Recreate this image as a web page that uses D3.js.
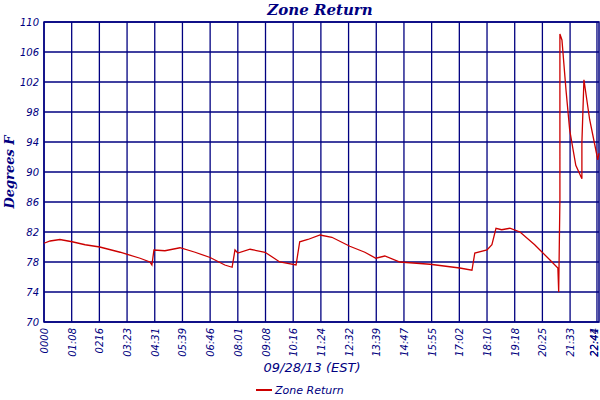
<!DOCTYPE html>
<html><head><meta charset="utf-8">
<script src="https://cdn.jsdelivr.net/npm/d3@7"></script>
<style>body{margin:0;background:#fff}</style></head>
<body><svg id="c" width="600" height="400"></svg>
<script>
const tickLabels=["0000","01:08","0216","03:23","04:31","05:39","06:46","08:01","09:08","10:16","11:24","12:32","13:39","14:47","15:55","17:02","18:10","19:18","20:25","21:33"];
const endLabels=["22:41","22:44"];
const yTicks=[70,74,78,82,86,90,94,98,102,106,110];
const minutes=[0,15,39,69,101,137,187,236,260,265,270,297,334,371,408,444,462,469,476,506,543,579,619,628,648,678,707,751,788,815,837,874,948,1021,1051,1058,1088,1100,1110,1124,1144,1169,1205,1242,1262,1264,1267,1267,1272,1282,1291,1306,1321,1321,1326,1340,1355,1360,1363];
const temps=[80.5,80.8,81.0,80.7,80.3,80.0,79.3,78.5,78.0,77.6,79.6,79.5,79.9,79.3,78.6,77.6,77.3,79.6,79.2,79.7,79.3,78.0,77.6,80.7,81.0,81.6,81.3,80.1,79.3,78.5,78.8,78.0,77.7,77.2,76.9,79.2,79.6,80.3,82.5,82.3,82.5,82.0,80.3,78.3,77.2,74.0,86.3,108.4,107.6,100.9,95.6,90.9,89.1,93.9,102.3,97.0,93.0,91.6,92.5];
const svg=d3.select("#c");
const L=44,R=599,T=22,B=322,navy="#000080";
const x=d3.scaleLinear().domain([0,1363]).range([L,R]);
const y=d3.scaleLinear().domain([70,110]).range([B,T]);
const g=svg.append("g");
const xt=tickLabels.map((d,i)=>i*68);
g.selectAll(".vx").data(xt.concat([1358])).enter().append("line")
 .attr("x1",d=>x(d)).attr("x2",d=>x(d)).attr("y1",T).attr("y2",B).attr("stroke",navy).attr("stroke-width",1.3);
g.selectAll(".hy").data(yTicks).enter().append("line")
 .attr("x1",L).attr("x2",R).attr("y1",d=>y(d)).attr("y2",d=>y(d)).attr("stroke",navy).attr("stroke-width",1.3);
g.append("rect").attr("x",L).attr("y",T).attr("width",R-L).attr("height",B-T).attr("fill","none").attr("stroke",navy).attr("stroke-width",1.5);
svg.selectAll(".yl").data(yTicks).enter().append("text").attr("x",L-5).attr("y",d=>y(d)+4)
 .attr("text-anchor","end").attr("font-family","DejaVu Sans").attr("font-style","italic").attr("font-size",10).attr("fill",navy).text(d=>d);
const xl=tickLabels.map((t,i)=>({t,m:i*68})).concat([{t:endLabels[0],m:1358},{t:endLabels[1],m:1363}]);
svg.selectAll(".xl").data(xl).enter().append("text")
 .attr("transform",d=>`translate(${Math.min(x(d.m)+4,598)},${B+6}) rotate(-90)`)
 .attr("text-anchor","end").attr("font-family","DejaVu Sans").attr("font-style","italic").attr("font-size",10).attr("fill",navy).text(d=>d.t);
const line=d3.line().x((d,i)=>x(minutes[i])).y(d=>y(d));
svg.append("path").attr("d",line(temps)).attr("fill","none").attr("stroke","#cc0000").attr("stroke-width",1.3);
svg.append("text").attr("x",320).attr("y",15).attr("text-anchor","middle").attr("font-family","DejaVu Serif").attr("font-weight","bold").attr("font-style","italic").attr("font-size",15).attr("fill",navy).text("Zone Return");
svg.append("text").attr("transform","translate(14,172) rotate(-90)").attr("text-anchor","middle").attr("font-family","DejaVu Serif").attr("font-weight","bold").attr("font-style","italic").attr("font-size",13).attr("fill",navy).text("Degrees F");
svg.append("text").attr("x",312).attr("y",372).attr("text-anchor","middle").attr("font-family","DejaVu Sans").attr("font-style","italic").attr("font-size",13).attr("fill",navy).text("09/28/13 (EST)");
svg.append("line").attr("x1",256).attr("x2",272).attr("y1",390).attr("y2",390).attr("stroke","#cc0000").attr("stroke-width",2);
svg.append("text").attr("x",275).attr("y",394).attr("font-family","DejaVu Sans").attr("font-style","italic").attr("font-size",11).attr("fill",navy).text("Zone Return");
</script></body></html>
